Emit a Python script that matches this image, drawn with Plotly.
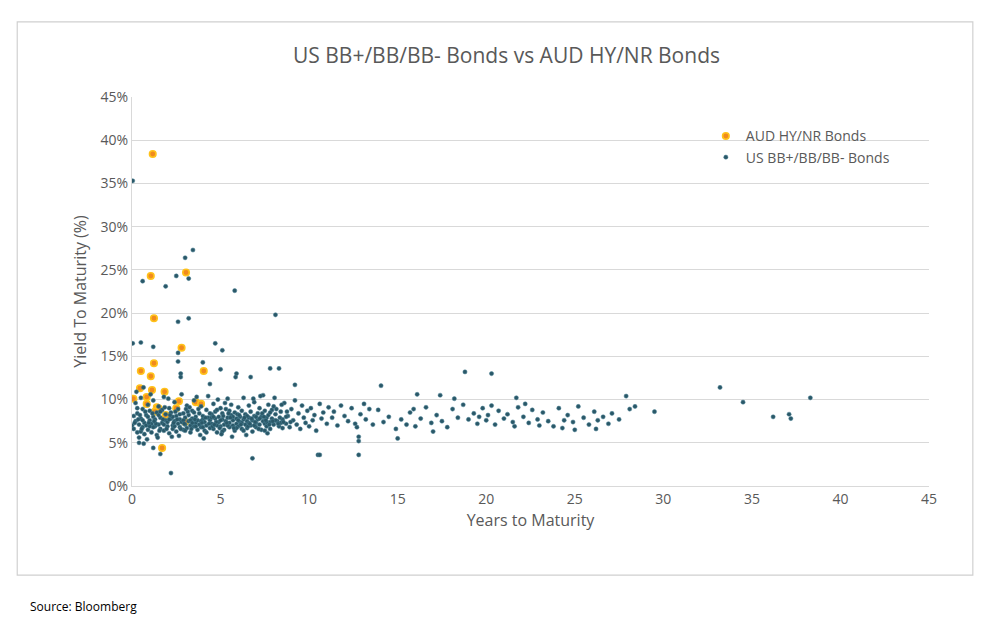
import plotly.graph_objects as go

# US BB+/BB/BB- bonds: (years to maturity, yield %)
us_outliers = [
    (0.04, 35.3), (3.44, 27.3), (3.0, 26.4), (0.6, 23.7), (2.5, 24.3), (3.2, 24.0),
    (1.9, 23.1), (5.8, 22.6), (8.1, 19.8), (3.2, 19.4), (2.6, 19.0), (0.04, 16.5),
    (0.5, 16.6), (1.2, 16.1), (4.7, 16.5), (5.1, 15.7), (2.6, 14.4), (2.6, 15.4),
    (2.75, 13.0), (2.75, 12.6), (4.0, 14.3), (5.0, 13.5), (5.9, 13.0), (5.85, 12.6),
    (6.7, 12.6), (7.8, 13.6), (8.3, 13.6), (9.2, 11.7), (4.4, 11.8), (1.2, 4.4),
    (1.6, 3.7), (2.2, 1.5), (6.8, 3.2), (10.5, 3.6), (0.66, 4.9), (0.4, 5.0),
    (12.8, 3.6), (10.6, 3.6), (12.8, 5.2), (12.8, 5.7), (15.0, 5.5),
]

us_cluster = [
    (0.0, 7.0), (0.1, 8.1), (0.1, 6.6), (0.2, 7.5), (0.2, 9.6), (0.3, 6.2), (0.3, 8.4),
    (0.4, 7.1), (0.4, 5.6), (0.5, 7.8), (0.5, 10.2), (0.6, 6.8), (0.6, 8.9), (0.7, 7.3),
    (0.7, 6.0), (0.8, 8.2), (0.8, 7.0), (0.9, 9.4), (0.9, 6.5), (1.0, 7.6), (1.0, 8.7),
    (1.1, 6.2), (1.1, 7.2), (1.2, 9.9), (1.2, 8.0), (1.3, 6.9), (1.3, 7.7), (1.4, 5.9),
    (1.4, 8.5), (1.5, 7.1), (1.5, 9.2), (1.6, 6.6), (1.6, 7.9), (1.7, 8.8), (1.7, 7.3),
    (1.8, 6.4), (1.8, 10.3), (1.9, 7.6), (1.9, 8.3), (2.0, 6.9), (2.0, 7.4), (2.1, 9.0),
    (2.1, 6.1), (2.2, 7.8), (2.2, 8.5), (2.3, 7.0), (2.3, 6.6), (2.4, 9.7), (2.4, 7.5),
    (2.5, 8.1), (2.5, 6.3), (2.6, 7.2), (2.6, 8.9), (2.7, 6.8), (2.7, 7.7), (2.8, 10.6),
    (2.8, 7.4), (2.9, 6.5), (2.9, 8.4), (3.0, 7.1), (3.0, 7.9), (3.1, 9.3), (3.1, 6.7),
    (3.2, 7.5), (3.2, 8.2), (3.3, 6.2), (3.3, 7.0), (3.4, 8.7), (3.4, 7.8), (3.5, 6.9),
    (3.5, 9.9), (3.6, 7.3), (3.6, 8.0), (3.7, 6.5), (3.7, 7.6), (3.8, 8.4), (3.8, 7.1),
    (3.9, 9.2), (3.9, 6.8), (4.0, 7.7), (4.0, 8.1), (4.1, 6.4), (4.1, 7.4), (4.2, 8.8),
    (4.2, 7.0), (4.3, 7.9), (4.3, 10.4), (4.4, 6.7), (4.4, 7.6), (4.5, 8.3), (4.5, 7.2),
    (4.6, 9.5), (4.6, 6.6), (4.7, 7.8), (4.7, 8.6), (4.8, 7.0), (4.8, 6.2), (4.9, 8.0),
    (4.9, 7.4), (5.0, 9.0), (5.0, 6.9), (5.1, 7.7), (5.1, 8.4), (5.2, 7.1), (5.2, 6.5),
    (5.3, 8.9), (5.3, 7.5), (5.4, 10.1), (5.4, 7.9), (5.5, 6.8), (5.5, 7.3), (5.6, 8.2),
    (5.6, 9.4), (5.7, 7.0), (5.7, 7.6), (5.8, 6.4), (5.8, 8.5), (5.9, 7.8), (5.9, 7.2),
    (6.0, 9.1), (6.0, 6.9), (6.1, 8.0), (6.1, 7.4), (6.2, 6.6), (6.2, 8.7), (6.3, 7.7),
    (6.3, 10.2), (6.4, 7.1), (6.4, 8.3), (6.5, 6.7), (6.5, 7.5), (6.6, 9.3), (6.6, 7.9),
    (6.7, 7.0), (6.7, 8.6), (6.8, 6.3), (6.8, 7.6), (6.9, 8.1), (6.9, 9.7), (7.0, 7.3),
    (7.0, 6.8), (7.1, 8.4), (7.1, 7.7), (7.2, 9.0), (7.2, 7.1), (7.3, 8.0), (7.3, 6.5),
    (7.4, 7.5), (7.4, 10.5), (7.5, 8.7), (7.5, 7.2), (7.6, 7.9), (7.6, 6.9), (7.7, 9.4),
    (7.7, 8.2), (7.8, 7.4), (7.8, 6.6), (7.9, 8.8), (7.9, 7.8), (8.0, 7.1), (8.0, 9.2),
    (8.1, 8.3), (8.2, 7.5), (8.3, 6.9), (8.4, 8.6), (8.5, 7.7), (8.6, 9.6), (8.7, 7.2),
    (8.8, 8.1), (8.9, 6.8), (9.0, 8.9), (9.1, 7.6), (9.2, 9.9), (9.3, 7.1), (9.4, 8.4),
    (9.5, 6.6), (9.6, 9.3), (9.7, 7.9), (9.8, 7.3), (9.9, 8.7), (10.0, 6.9), (10.1, 9.0),
    (10.2, 7.6), (10.3, 8.2), (10.4, 6.4), (10.6, 9.5), (10.7, 7.8), (10.8, 8.5),
    (11.0, 7.2), (11.1, 9.1), (11.3, 7.9), (11.4, 8.6), (11.6, 7.0), (11.8, 9.3),
    (12.0, 8.1), (12.2, 7.5), (12.4, 9.0), (12.6, 7.2), (12.7, 6.8), (12.9, 8.3),
    (13.1, 9.5), (13.2, 7.7), (13.4, 8.9), (13.6, 7.1),
    (0.3, 9.0), (0.6, 7.6), (0.9, 8.0), (1.2, 6.8), (1.5, 8.2), (1.8, 7.1), (2.1, 7.7),
    (2.4, 6.9), (2.7, 8.3), (3.0, 6.4), (3.3, 7.6), (3.6, 6.9), (3.9, 7.5), (4.2, 6.2),
    (4.5, 7.9), (4.8, 8.8), (5.1, 6.3), (5.4, 7.0), (5.7, 8.0), (6.0, 7.6), (6.3, 6.4),
    (6.6, 7.3), (6.9, 7.0), (7.2, 7.8), (7.5, 6.4), (7.8, 8.5), (8.1, 7.6), (8.4, 7.3),
    (8.7, 8.0), (3.5, 8.5), (4.6, 8.0), (5.5, 8.7), (6.5, 8.1), (2.3, 8.0), (1.6, 8.6),
    (5.0, 7.6), (4.0, 6.8), (6.2, 7.3), (7.0, 8.0), (3.4, 7.3), (2.9, 7.6), (1.0, 6.9),
    (0.5, 6.3), (7.6, 7.4), (8.5, 6.7), (5.9, 6.7), (4.4, 8.4),
    (0.15, 7.3), (0.35, 7.7), (0.55, 6.6), (0.75, 8.6), (0.95, 7.3), (1.15, 8.4),
    (1.35, 7.2), (1.55, 6.4), (1.75, 7.7), (1.95, 6.6), (2.15, 8.2), (2.35, 7.3),
    (2.55, 7.7), (2.75, 6.6), (2.95, 7.2), (3.15, 8.6), (3.35, 6.6), (3.55, 7.7),
    (3.75, 8.9), (3.95, 7.3), (4.15, 7.9), (4.35, 7.2), (4.55, 6.9), (4.75, 7.4),
    (4.95, 6.7), (5.15, 8.1), (5.35, 7.3), (5.55, 7.9), (5.75, 6.7), (5.95, 8.3),
    (6.15, 7.1), (6.35, 7.9), (6.55, 6.9), (6.75, 7.8), (6.95, 7.4), (7.15, 6.6),
    (7.35, 8.4), (7.55, 7.6), (7.75, 7.1), (7.95, 7.5), (8.15, 8.9), (8.35, 7.9),
    (8.55, 7.4), (8.75, 8.6), (8.95, 7.4), (1.05, 10.6), (0.25, 10.9), (0.65, 11.4),
    (2.05, 10.1), (3.65, 10.3), (4.85, 10.0), (5.25, 9.6), (6.85, 10.1), (7.25, 10.4),
    (8.05, 10.2), (8.45, 9.4), (1.45, 5.6), (2.65, 5.8), (3.85, 5.9), (5.05, 6.0),
    (6.45, 5.9), (7.65, 6.1), (0.85, 5.4), (2.25, 5.7), (4.05, 5.5), (5.65, 5.7),
    (0.45, 8.2), (1.25, 7.5), (2.45, 8.6), (3.25, 9.1), (4.65, 7.1), (5.45, 8.4),
    (6.05, 8.2), (6.65, 7.2), (7.45, 8.0), (8.25, 7.2), (3.05, 8.9), (1.85, 9.1),
]

us_tail = [
    (14.06, 11.6), (16.1, 10.6), (17.4, 10.5), (18.2, 10.1), (18.8, 13.2), (20.3, 13.0),
    (21.7, 10.2), (13.9, 8.8), (14.2, 7.4), (14.5, 8.0), (14.9, 6.6), (15.2, 7.7),
    (15.5, 7.1), (15.7, 8.5), (16.0, 6.9), (16.3, 7.8), (16.6, 9.1), (16.9, 7.3),
    (17.2, 8.2), (17.5, 7.5), (17.8, 6.8), (18.1, 8.9), (18.4, 7.9), (18.7, 9.4),
    (19.0, 7.7), (19.3, 8.4), (19.5, 7.2), (19.8, 9.0), (20.0, 7.6), (20.1, 8.2),
    (20.3, 9.3), (20.5, 7.1), (20.7, 8.7), (21.0, 7.8), (21.2, 8.3), (21.5, 7.4),
    (21.8, 9.1), (22.1, 8.0), (22.4, 7.3), (22.6, 8.8), (22.9, 7.7), (23.2, 8.5),
    (23.5, 7.5), (23.8, 6.9), (24.1, 9.0), (24.4, 7.6), (24.6, 8.2), (24.9, 7.4),
    (25.2, 9.2), (25.5, 7.9), (25.8, 7.1), (26.1, 8.6), (26.3, 7.6), (26.6, 8.0),
    (26.9, 7.2), (27.1, 8.4), (27.5, 7.7), (27.9, 10.4), (28.1, 8.9), (28.4, 9.2),
    (29.5, 8.6), (33.2, 11.4), (34.5, 9.7), (36.2, 8.0), (37.1, 8.3), (37.2, 7.8),
    (38.3, 10.2), (19.6, 8.0), (23.0, 7.0), (25.0, 6.5), (21.6, 6.9), (17.0, 6.3),
    (15.9, 8.9), (26.2, 6.6), (24.3, 6.7), (22.2, 9.5),
]

# AUD HY/NR bonds
aud_points = [
    (1.17, 38.4), (1.06, 24.3), (3.05, 24.7), (1.24, 19.4), (2.8, 16.0), (1.24, 14.2),
    (0.5, 13.3), (1.06, 12.7), (4.05, 13.3), (0.45, 11.3), (1.13, 11.1), (0.08, 10.1),
    (0.83, 10.3), (1.84, 10.9), (2.65, 9.8), (3.6, 9.7), (3.9, 9.5), (0.83, 9.5),
    (1.4, 9.1), (1.5, 9.0), (2.5, 9.0), (3.0, 7.4), (1.7, 4.4), (1.3, 8.6), (1.9, 8.2),
]

us_all = us_cluster + us_tail + us_outliers
us_years = [p[0] for p in us_all]
us_yield = [p[1] for p in us_all]
aud_years = [p[0] for p in aud_points]
aud_yield = [p[1] for p in aud_points]

fig = go.Figure()

# AUD drawn first so the US dots sit on top, as in the original
fig.add_trace(go.Scatter(
    x=aud_years, y=aud_yield, mode="markers", name="AUD HY/NR Bonds",
    marker=dict(size=6.5, color="#F08A1E", line=dict(color="#FFC21A", width=1.6)),
))

fig.add_trace(go.Scatter(
    x=us_years, y=us_yield, mode="markers", name="US BB+/BB/BB- Bonds",
    marker=dict(size=4.2, color="#2A5868", line=dict(color="#4A8094", width=0.5)),
))

fig.update_layout(
    width=997, height=633,
    paper_bgcolor="white", plot_bgcolor="white",
    margin=dict(l=124, r=76, t=89, b=155),
    font=dict(family="Open Sans, Liberation Sans, sans-serif", color="#595959", size=14),
    title=dict(text="US BB+/BB/BB- Bonds vs AUD HY/NR Bonds", x=0.5, xanchor="center",
               y=0.925, yanchor="middle", font=dict(size=21, color="#595959")),
    xaxis=dict(range=[0, 45], dtick=5, tick0=0, showgrid=False, zeroline=False,
               showline=True, linecolor="#D9D9D9", ticks="",
               title=dict(text="Years to Maturity", standoff=8, font=dict(size=16))),
    yaxis=dict(range=[0, 45], dtick=5, tick0=0, ticksuffix="%", showgrid=True,
               gridcolor="#D9D9D9", zeroline=False, showline=True, linecolor="#D9D9D9",
               title=dict(text="Yield To Maturity (%)", standoff=10, font=dict(size=16))),
    legend=dict(x=0.72, y=0.94, xanchor="left", yanchor="top", traceorder="normal",
                bgcolor="rgba(0,0,0,0)", font=dict(size=14, color="#595959"),
                tracegroupgap=22),
    showlegend=True,
)

# Chart frame and source note
fig.add_shape(type="rect", xref="paper", yref="paper", x0=-0.144, x1=1.055,
              y0=-0.229, y1=1.193, line=dict(color="#D0D0D0", width=1.2))
fig.add_annotation(text="Source: Bloomberg", xref="paper", yref="paper", x=-0.13, y=-0.31,
                   xanchor="left", yanchor="middle", showarrow=False,
                   font=dict(size=12, color="#000000"))

fig.write_html("out.html")
